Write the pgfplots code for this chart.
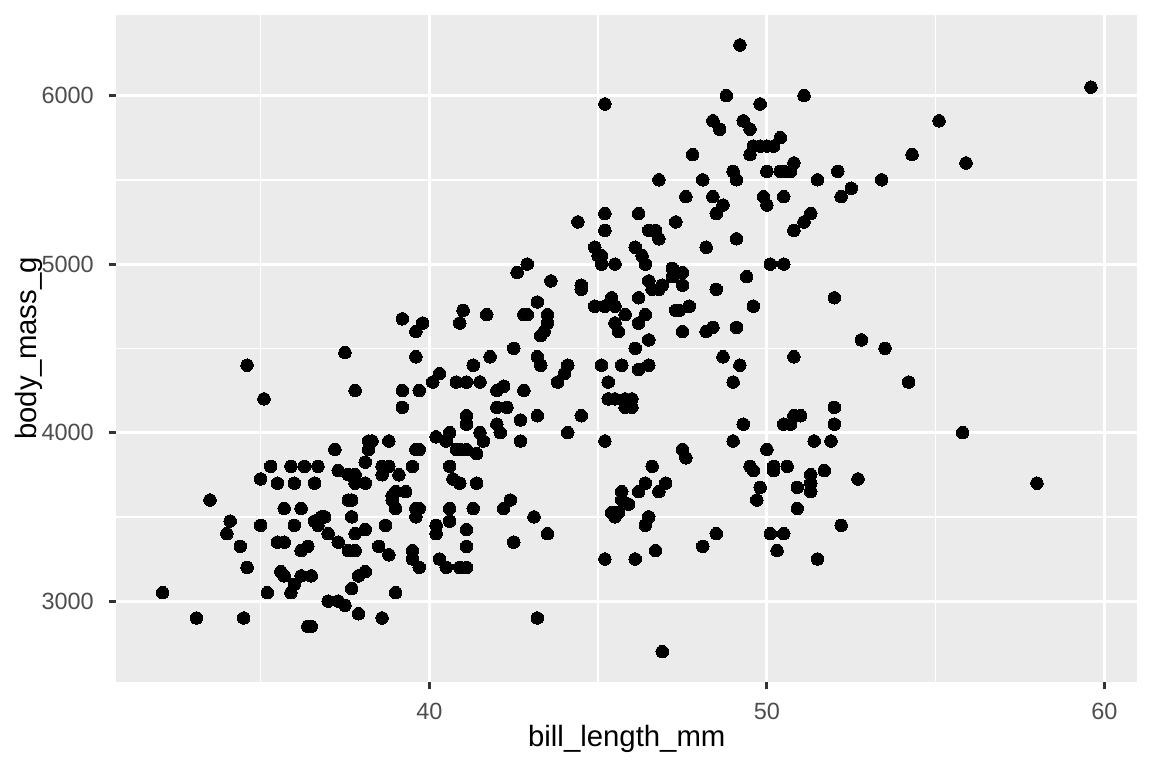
\documentclass[border=0pt]{standalone}
\usepackage{fontspec}
\setmainfont{Liberation Sans}
\usepackage{pgfplots}
\pgfplotsset{compat=1.18}
\definecolor{panelbg}{HTML}{EBEBEB}
\definecolor{ticklab}{HTML}{4D4D4D}
\definecolor{tickcol}{HTML}{333333}
\begin{document}
\begin{tikzpicture}
\useasboundingbox (-43.6bp,-32.3bp) rectangle (388.3bp,255.7bp);
\begin{axis}[
  at={(0,0)}, anchor=south west,
  scale only axis, width=382.8bp, height=250.2bp,
  xmin=30.725, xmax=60.975, ymin=2520, ymax=6480,
  axis background/.style={fill=panelbg},
  axis line style={draw=none},
  xtick={40,50,60}, xticklabels={40,50,60},
  ytick={3000,4000,5000,6000}, yticklabels={3000,4000,5000,6000},
  minor xtick={35,45,55}, minor ytick={3500,4500,5500},
  grid=both,
  major grid style={white, line width=1.07bp},
  minor grid style={white, line width=0.53bp},
  tick pos=left, tick align=outside,
  major tick length=2.74bp, minor tick length=0pt,
  tick style={color=tickcol, line width=1.07bp},
  /pgf/number format/assume math mode=true,
  xticklabel style={font=\fontsize{8.8bp}{10bp}\selectfont, text=ticklab, inner sep=0pt, anchor=base, yshift=-11.44bp},
  yticklabel style={font=\fontsize{8.8bp}{10bp}\selectfont, text=ticklab, inner sep=0pt, anchor=east, xshift=-5.5bp},
  clip=false,
]
\addplot[only marks, mark=*, mark size=2.35bp, mark options={fill=black, draw=black, line width=0pt}] table {
x y
39.1 3750
39.5 3800
40.3 3250
36.7 3450
39.3 3650
38.9 3625
39.2 4675
34.1 3475
42 4250
37.8 3300
37.8 3700
41.1 3200
38.6 3800
34.6 4400
36.6 3700
38.7 3450
42.5 4500
34.4 3325
46 4200
37.8 3400
37.7 3600
35.9 3800
38.2 3950
38.8 3800
35.3 3800
40.6 3550
40.5 3200
37.9 3150
40.5 3950
39.5 3250
37.2 3900
39.5 3300
40.9 3900
36.4 3325
39.2 4150
38.8 3950
42.2 3550
37.6 3300
39.8 4650
36.5 3150
40.8 3900
36 3100
44.1 4400
37 3000
39.6 4600
41.1 3425
37.5 2975
36 3450
42.3 4150
39.6 3500
40.1 4300
35 3450
42 4050
34.5 2900
41.4 3700
39 3550
40.6 3800
36.5 2850
37.6 3750
35.7 3150
41.3 4400
37.6 3600
41.1 4050
36.4 2850
41.6 3950
35.5 3350
41.1 4100
35.9 3050
41.8 4450
33.5 3600
39.7 3900
39.6 3550
45.8 4150
35.5 3700
42.8 4250
40.9 3700
37.2 3900
36.2 3550
42.1 4000
34.6 3200
42.9 4700
36.7 3800
35.1 4200
37.3 3350
41.3 3550
36.3 3800
36.9 3500
38.3 3950
38.9 3600
35.7 3550
41.1 4300
34 3400
39.6 4450
36.2 3300
40.8 4300
38.1 3700
40.3 4350
33.1 2900
43.2 4100
35 3725
41 4725
37.7 3075
37.8 4250
37.9 2925
39.7 3550
38.6 3750
38.2 3900
38.1 3175
43.2 4775
38.1 3825
45.6 4600
39.7 3200
42.2 4275
39.6 3900
42.7 4075
38.6 2900
37.3 3775
35.7 3350
41.1 3325
36.2 3150
37.7 3500
40.2 3450
41.4 3875
35.2 3050
40.6 4000
38.8 3275
41.5 4300
39 3050
44.1 4000
38.5 3325
43.1 3500
36.8 3500
37.5 4475
38.1 3425
41.1 3900
35.6 3175
40.2 3975
37 3400
39.7 4250
40.2 3400
40.6 3475
32.1 3050
40.7 3725
37.3 3000
39 3650
39.2 4250
36.6 3475
36 3450
37.8 3750
36 3700
41.5 4000
46.1 4500
50 5700
48.7 4450
50 5700
47.6 5400
46.5 4550
45.4 4800
46.7 5200
43.3 4400
46.8 5150
40.9 4650
49 5550
45.5 4650
48.4 5850
45.8 4200
49.3 5850
42 4150
49.2 6300
46.2 4800
48.7 5350
50.2 5700
45.1 5000
46.5 4400
46.3 5050
42.9 5000
46.1 5100
44.5 4100
47.8 5650
48.2 4600
50 5550
47.3 5250
42.8 4700
45.1 5050
59.6 6050
49.1 5150
48.4 5400
42.6 4950
44.4 5250
44 4350
48.7 5350
42.7 3950
49.6 5700
45.3 4300
49.6 4750
50.5 5550
43.6 4900
45.5 4200
50.5 5400
44.9 5100
45.2 5300
46.6 4850
48.5 5300
45.1 4400
50.1 5000
46.5 4900
45 5050
43.8 4300
45.5 5000
43.2 4450
50.4 5550
45.3 4200
46.2 5300
45.7 4400
54.3 5650
45.8 4700
49.8 5700
46.2 4650
49.5 5800
43.5 4700
50.7 5550
47.7 4750
46.4 5000
48.2 5100
46.5 5200
46.4 4700
48.6 5800
47.5 4600
51.1 6000
45.2 4750
45.2 5950
49.1 4625
52.5 5450
47.4 4725
50 5350
44.9 4750
50.8 5600
43.4 4600
51.3 5300
47.5 4875
52.1 5550
47.5 4950
52.2 5400
45.5 4750
49.5 5650
44.5 4850
50.8 5200
49.4 4925
46.9 4875
48.4 4625
51.1 5250
48.5 4850
55.9 5600
47.2 4975
49.1 5500
47.3 4725
46.8 5500
41.7 4700
53.4 5500
43.3 4575
48.1 5500
50.5 5000
49.8 5950
43.5 4650
51.5 5500
46.2 4375
55.1 5850
44.5 4875
48.8 6000
47.2 4925
46.8 4850
50.4 5750
45.2 5200
49.9 5400
46.5 3500
50 3900
51.3 3650
45.4 3525
52.7 3725
45.2 3950
46.1 3250
51.3 3750
46 4150
51.3 3700
46.6 3800
51.7 3775
47 3700
52 4050
45.9 3575
50.5 4050
50.3 3300
58 3700
46.4 3450
49.2 4400
42.4 3600
48.5 3400
43.2 2900
50.6 3800
46.7 3300
52 4150
50.5 3400
49.5 3800
46.4 3700
52.8 4550
40.9 3200
54.2 4300
42.5 3350
51 4100
49.7 3600
47.5 3900
47.6 3850
52 4800
46.9 2700
53.5 4500
49 3950
46.2 3650
50.9 3550
45.5 3500
50.9 3675
50.8 4450
50.1 3400
49 4300
51.5 3250
49.8 3675
48.1 3325
51.4 3950
45.7 3600
50.7 4050
42.5 3350
52.2 3450
45.2 3250
49.3 4050
50.2 3800
45.6 3525
51.9 3950
46.8 3650
45.7 3650
55.8 4000
43.5 3400
49.6 3775
50.8 4100
50.2 3775
};
\end{axis}
\node[anchor=base, font=\fontsize{11bp}{13bp}\selectfont, inner sep=0pt] at (191.4bp,-24.0bp) {bill\_length\_mm};
\node[anchor=base, rotate=90, font=\fontsize{11bp}{13bp}\selectfont, inner sep=0pt] at (-29.9bp,125.1bp) {body\_mass\_g};
\end{tikzpicture}
\end{document}
